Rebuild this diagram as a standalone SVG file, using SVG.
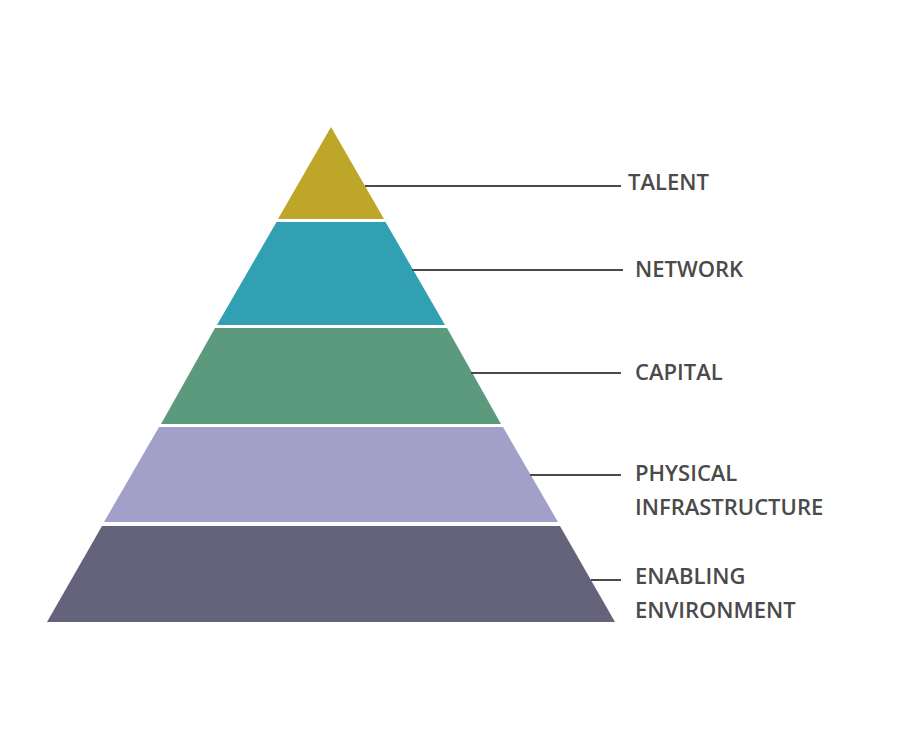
<svg xmlns="http://www.w3.org/2000/svg" width="900" height="750" viewBox="0 0 900 750">
<style>
.l{font-family:"Open Sans","Liberation Sans",sans-serif;font-size:22px;font-weight:600;fill:#4a4a4a}
.c{stroke:#4a4a4a;stroke-width:2;fill:none}
</style>
<rect width="900" height="750" fill="#fff"/>
<g id="talent"><polygon points="331,127 384,219 278,219" fill="#BDA628"/><text class="l" x="628" y="190">TALENT</text></g>
<g id="network"><polygon points="276.5,222 385.5,222 445,325 217,325" fill="#30A0B2"/><text class="l" x="635" y="277">NETWORK</text></g>
<g id="capital"><polygon points="215,328 447,328 501,424 161,424" fill="#5C9A7E"/><text class="l" x="635" y="380">CAPITAL</text></g>
<g id="physical"><polygon points="159,427 503,427 558,522 104,522" fill="#A29FC8"/><text class="l" x="635" y="481">PHYSICAL</text><text class="l" x="635" y="515">INFRASTRUCTURE</text></g>
<g id="enabling"><polygon points="102,526 560,526 615,622 47,622" fill="#65627C"/><text class="l" x="635" y="584">ENABLING</text><text class="l" x="635" y="618">ENVIRONMENT</text></g>
<g id="connectors">
<line class="c" x1="365" y1="186" x2="621" y2="186"/>
<line class="c" x1="412" y1="270" x2="623" y2="270"/>
<line class="c" x1="471" y1="373" x2="621" y2="373"/>
<line class="c" x1="530" y1="475" x2="621" y2="475"/>
<line class="c" x1="591" y1="580" x2="621" y2="580"/>
</g>
</svg>
